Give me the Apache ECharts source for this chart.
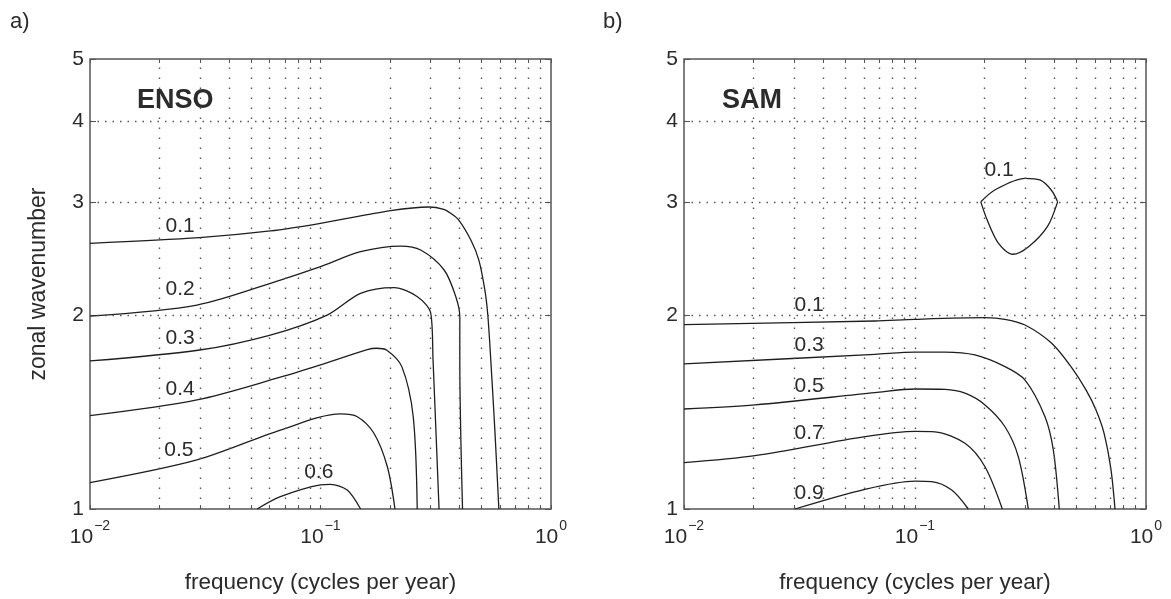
<html>
<head>
    <meta charset="utf-8">
    <script src="https://cdn.jsdelivr.net/npm/echarts@6/dist/echarts.min.js"></script>
    <style>
        html, body { margin: 0; padding: 0; background: #fff; }
        #main { width: 1171px; height: 599px; }
    </style>
</head>
<body>
    <div id="main"></div>
    <script>
        // axis ticks / dotted grid
        var freqTicks = [0.01, 0.1, 1];
        var waveTicks = [1, 2, 3, 4, 5];
        var gridFreq = [0.02, 0.03, 0.04, 0.05, 0.06, 0.07, 0.08, 0.09, 0.1,
                        0.2, 0.3, 0.4, 0.5, 0.6, 0.7, 0.8, 0.9];
        var gridWave = [2, 3, 4];

        // a) ENSO contours, [frequency, wavenumber]
        var ensoLevels = ['0.1', '0.2', '0.3', '0.4', '0.5', '0.6'];
        var enso01 = [[0.01, 2.586], [0.0298, 2.639], [0.0606, 2.703], [0.1, 2.778], [0.2015, 2.906], [0.2948, 2.945],
                      [0.3426, 2.921], [0.3674, 2.879], [0.398, 2.811], [0.449, 2.617], [0.4864, 2.436], [0.5164, 2.189],
                      [0.532, 2.0], [0.548, 1.704], [0.5707, 1.326], [0.594, 1.0]];
        var enso02 = [[0.01, 1.994], [0.0291, 2.074], [0.067, 2.268], [0.1, 2.379], [0.1492, 2.51], [0.2227, 2.561],
                      [0.2721, 2.525], [0.3438, 2.351], [0.3864, 2.137], [0.4021, 1.989], [0.4021, 1.704], [0.4132, 1.0]];
        var enso03 = [[0.01, 1.698], [0.0299, 1.766], [0.0606, 1.863], [0.1069, 2.001], [0.1492, 2.163], [0.2084, 2.207],
                      [0.2633, 2.137], [0.3009, 2.014], [0.3078, 1.704], [0.3268, 1.0]];
        var enso04 = [[0.01, 1.396], [0.0291, 1.477], [0.067, 1.602], [0.1, 1.674], [0.1596, 1.768], [0.175, 1.777],
                      [0.1934, 1.766], [0.2253, 1.664], [0.2525, 1.391], [0.2628, 1.0]];
        var enso05 = [[0.01, 1.099], [0.0291, 1.192], [0.067, 1.326], [0.1222, 1.405], [0.1444, 1.391], [0.1705, 1.311],
                      [0.195, 1.163], [0.2104, 1.0]];
        var enso06 = [[0.0531, 1.0], [0.067, 1.045], [0.1, 1.09], [0.1105, 1.092], [0.1306, 1.07], [0.1492, 1.0]];
        var ensoLabelPos = [[0.0246, 2.751], [0.0246, 2.194], [0.0246, 1.841], [0.0246, 1.534], [0.0243, 1.232], [0.0983, 1.139]];

        // b) SAM contours
        var samLevels = ['0.1', '0.3', '0.5', '0.7', '0.9', '0.1'];
        var sam01 = [[0.01, 1.933], [0.0671, 1.959], [0.1, 1.971], [0.2009, 1.982], [0.2452, 1.971], [0.2995, 1.931],
                     [0.3906, 1.809], [0.4734, 1.664], [0.5498, 1.531], [0.6075, 1.425], [0.658, 1.312], [0.7055, 1.15],
                     [0.734, 1.0]];
        var sam03 = [[0.01, 1.68], [0.0671, 1.739], [0.1, 1.753], [0.1349, 1.753], [0.1818, 1.735], [0.2452, 1.664],
                     [0.2995, 1.586], [0.3654, 1.391], [0.397, 1.235], [0.4213, 1.0]];
        var sam05 = [[0.01, 1.43], [0.0203, 1.451], [0.0671, 1.516], [0.1, 1.536], [0.1349, 1.534], [0.1646, 1.513],
                     [0.2009, 1.451], [0.2452, 1.342], [0.28, 1.206], [0.3094, 1.0]];
        var sam07 = [[0.01, 1.18], [0.0203, 1.21], [0.0607, 1.295], [0.1, 1.32], [0.122, 1.318], [0.1646, 1.265],
                     [0.2009, 1.163], [0.2388, 1.0]];
        var sam09 = [[0.0302, 1.0], [0.0607, 1.073], [0.1, 1.105], [0.1181, 1.103], [0.1442, 1.07], [0.1701, 1.0]];
        var samLoopTop = [[0.1927, 3.0], [0.2216, 3.13], [0.2991, 3.263], [0.3473, 3.244], [0.3887, 3.13], [0.4144, 3.0]];
        var samLoopBottom = [[0.4144, 3.0], [0.3742, 2.745], [0.3103, 2.555], [0.2652, 2.487], [0.2299, 2.586],
                             [0.2054, 2.811], [0.1927, 3.0]];
        var samLabelPos = [[0.0348, 2.074], [0.0348, 1.798], [0.0348, 1.549], [0.0348, 1.311], [0.0348, 1.058], [0.231, 3.362]];

        var FONT = '"Liberation Sans", Arial, Helvetica, sans-serif';
        var TEXT = '#2b2b2b';
        var edgeFreq = freqTicks.concat(gridFreq);

        function freqAxis(idx) {
            return {
                type: 'log', logBase: 10, gridIndex: idx, min: 0.01, max: 1,
                name: 'frequency (cycles per year)', nameLocation: 'middle', nameGap: 62,
                nameTextStyle: { fontSize: 22.5, color: TEXT, fontFamily: FONT },
                axisLine: { show: false },
                axisTick: { inside: true, length: 4, customValues: edgeFreq, lineStyle: { color: '#555' } },
                splitLine: { show: false },
                axisLabel: {
                    margin: 10, showMinLabel: true, showMaxLabel: true,
                    color: TEXT, fontFamily: FONT,
                    formatter: function (v) {
                        var e = Math.round(Math.log10(v));
                        return '{b|10}{s|' + (e < 0 ? '\u2212' + (-e) : e) + '}';
                    },
                    rich: {
                        b: { fontSize: 21, color: TEXT, fontFamily: FONT },
                        s: { fontSize: 14, color: TEXT, fontFamily: FONT, padding: [0, 0, 23, 1] }
                    }
                }
            };
        }

        // top edge: ticks only
        function freqEdge(idx) {
            return {
                type: 'log', logBase: 10, gridIndex: idx, min: 0.01, max: 1, position: 'top',
                axisLine: { show: false }, axisLabel: { show: false }, splitLine: { show: false },
                axisTick: { inside: true, length: 4, customValues: edgeFreq, lineStyle: { color: '#555' } }
            };
        }

        function waveAxis(idx, withName) {
            return {
                type: 'log', logBase: 10, gridIndex: idx, min: 1, max: 5,
                name: withName ? 'zonal wavenumber' : '', nameLocation: 'middle', nameGap: 40,
                nameTextStyle: { fontSize: 23, color: TEXT, fontFamily: FONT },
                axisLine: { show: false },
                axisTick: { inside: true, length: 6, customValues: waveTicks, lineStyle: { color: '#555' } },
                splitLine: { show: false },
                axisLabel: { customValues: waveTicks, fontSize: 21, color: TEXT, fontFamily: FONT, margin: 6 }
            };
        }

        // right edge: ticks only
        function waveEdge(idx) {
            return {
                type: 'log', logBase: 10, gridIndex: idx, min: 1, max: 5, position: 'right',
                axisLine: { show: false }, axisLabel: { show: false }, splitLine: { show: false },
                axisTick: { inside: true, length: 6, customValues: waveTicks, lineStyle: { color: '#555' } }
            };
        }

        function gridSeries(idx) {
            var marks = [];
            gridFreq.forEach(function (f) {
                marks.push({ xAxis: f, lineStyle: { type: [1.5, 8.5] } });
            });
            gridWave.forEach(function (w) {
                marks.push({ yAxis: w, lineStyle: { type: [1.5, 6] } });
            });
            return {
                type: 'line', xAxisIndex: idx, yAxisIndex: idx, data: [], silent: true, z: 1,
                markLine: {
                    silent: true, symbol: ['none', 'none'], animation: false,
                    label: { show: false },
                    lineStyle: { color: '#555', width: 1.4 },
                    data: marks
                }
            };
        }

        function contour(idx, data) {
            return {
                type: 'line', xAxisIndex: idx, yAxisIndex: idx, data: data,
                showSymbol: false, symbol: 'none', smooth: 0.3, z: 3, silent: true,
                lineStyle: { color: '#1e1e1e', width: 1.3 }
            };
        }

        function labelSeries(idx, names, pos) {
            return {
                type: 'scatter', xAxisIndex: idx, yAxisIndex: idx, symbol: 'circle', symbolSize: 0.1, z: 4, silent: true,
                itemStyle: { color: TEXT, opacity: 1 },
                label: {
                    show: true, position: 'inside', fontSize: 21, color: TEXT, opacity: 1,
                    fontFamily: FONT, textBorderWidth: 0,
                    formatter: function (p) { return p.name; }
                },
                data: pos.map(function (p, i) { return { name: names[i], value: p }; })
            };
        }

        var chart = echarts.init(document.getElementById('main'));
        var option = {
            animation: false,
            backgroundColor: '#fff',
            title: [
                { text: 'a)', left: 10, top: 11, padding: 0, textStyle: { fontSize: 22, fontWeight: 'normal', color: TEXT, fontFamily: FONT } },
                { text: 'b)', left: 603, top: 11, padding: 0, textStyle: { fontSize: 22, fontWeight: 'normal', color: TEXT, fontFamily: FONT } },
                { text: 'ENSO', left: 137, top: 87, padding: 0, textStyle: { fontSize: 27, fontWeight: 'bold', color: TEXT, fontFamily: FONT } },
                { text: 'SAM', left: 722, top: 87, padding: 0, textStyle: { fontSize: 27, fontWeight: 'bold', color: TEXT, fontFamily: FONT } }
            ],
            grid: [
                { left: 90, top: 59, width: 461, height: 450, show: true, borderColor: '#555', borderWidth: 1.5, backgroundColor: 'transparent' },
                { left: 684, top: 59, width: 462, height: 450, show: true, borderColor: '#555', borderWidth: 1.5, backgroundColor: 'transparent' }
            ],
            xAxis: [freqAxis(0), freqAxis(1), freqEdge(0), freqEdge(1)],
            yAxis: [waveAxis(0, true), waveAxis(1, false), waveEdge(0), waveEdge(1)],
            series: [
                gridSeries(0),
                gridSeries(1),
                contour(0, enso01), contour(0, enso02), contour(0, enso03),
                contour(0, enso04), contour(0, enso05), contour(0, enso06),
                contour(1, sam01), contour(1, sam03), contour(1, sam05),
                contour(1, sam07), contour(1, sam09),
                contour(1, samLoopTop), contour(1, samLoopBottom),
                labelSeries(0, ensoLevels, ensoLabelPos),
                labelSeries(1, samLevels, samLabelPos)
            ]
        };
        chart.setOption(option);
    </script>
</body>
</html>
